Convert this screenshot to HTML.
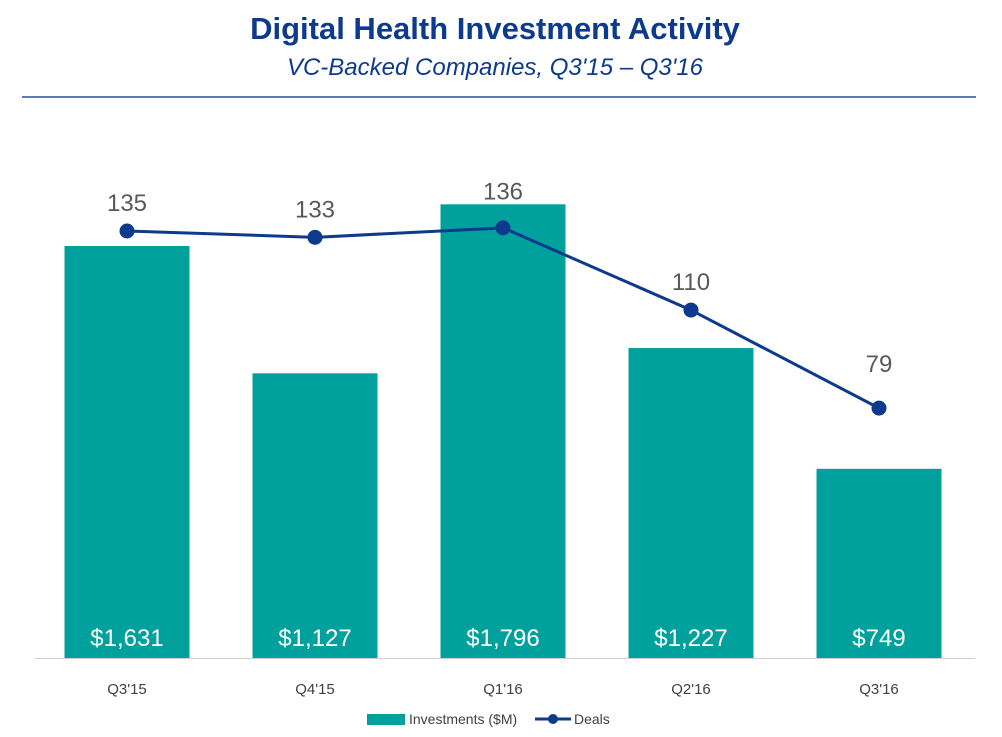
<!DOCTYPE html>
<html><head><meta charset="utf-8"><style>
body{margin:0;background:#fff;width:1002px;height:732px;overflow:hidden;font-family:"Liberation Sans",sans-serif}
</style></head><body>
<svg width="1002" height="732" xmlns="http://www.w3.org/2000/svg">
<text x="495" y="39" text-anchor="middle" font-size="31" font-weight="bold" fill="#0d3a8c">Digital Health Investment Activity</text>
<text x="495" y="75" text-anchor="middle" font-size="24" font-style="italic" fill="#0d3a8c">VC-Backed Companies, Q3'15 – Q3'16</text>
<line x1="22" y1="97" x2="976" y2="97" stroke="#2b4d9c" stroke-width="1.5"/>
<g id="plot"></g>
<line x1="35" y1="658.5" x2="975" y2="658.5" stroke="#d0d0d0" stroke-width="1"/>
<g>
<rect x="367" y="714" width="38" height="11" fill="#00a19c"/>
<text x="409" y="724" font-size="14" fill="#404040">Investments ($M)</text>
<line x1="535" y1="719" x2="571" y2="719" stroke="#0d3a8c" stroke-width="3"/>
<circle cx="553" cy="719" r="5" fill="#0d3a8c"/>
<text x="574" y="724" font-size="14" fill="#404040">Deals</text>
</g>
</svg>
<script>
const categories=["Q3'15","Q4'15","Q1'16","Q2'16","Q3'16"];
const investments=[1631,1127,1796,1227,749];
const investmentLabels=["$1,631","$1,127","$1,796","$1,227","$749"];
const deals=[135,133,136,110,79];
const NS="http://www.w3.org/2000/svg";
const g=document.getElementById('plot');
const base=658;
function xc(i){return 127+i*188;}
function yBar(v){return base-v*0.2526;}
function yDeal(v){return base-v*3.163;}
// place deal label above its point, clearing the bar top if needed
function yDealLabel(i){
  const py=yDeal(deals[i]);
  const bt=yBar(investments[i]);
  let y=py-20;
  if(bt<py+5) y=Math.min(y,bt-5);
  if(i===deals.length-1) y=py-36;
  return y;
}
function mk(t,a){const e=document.createElementNS(NS,t);for(const k in a)e.setAttribute(k,a[k]);g.appendChild(e);return e;}
categories.forEach((c,i)=>{
 const r=mk('rect',{x:xc(i)-62.5,y:yBar(investments[i]),width:125,height:base-yBar(investments[i]),fill:'#00a19c'});
 
 
 const t=mk('text',{x:xc(i),y:646,'text-anchor':'middle','font-size':24,fill:'#fff'});t.textContent=investmentLabels[i];
 
 
 const l=mk('text',{x:xc(i),y:694,'text-anchor':'middle','font-size':15,fill:'#404040'});l.textContent=c;
 
 
});
const p=mk('polyline',{points:deals.map((d,i)=>xc(i)+','+yDeal(d)).join(' '),fill:'none',stroke:'#0d3a8c','stroke-width':3});


deals.forEach((d,i)=>{
 const c=mk('circle',{cx:xc(i),cy:yDeal(d),r:7.5,fill:'#0d3a8c'});
 
 
 const t=mk('text',{x:xc(i),y:yDealLabel(i),'text-anchor':'middle','font-size':24,fill:'#595959'});t.textContent=d;
 
 
});
</script>
</body></html>
